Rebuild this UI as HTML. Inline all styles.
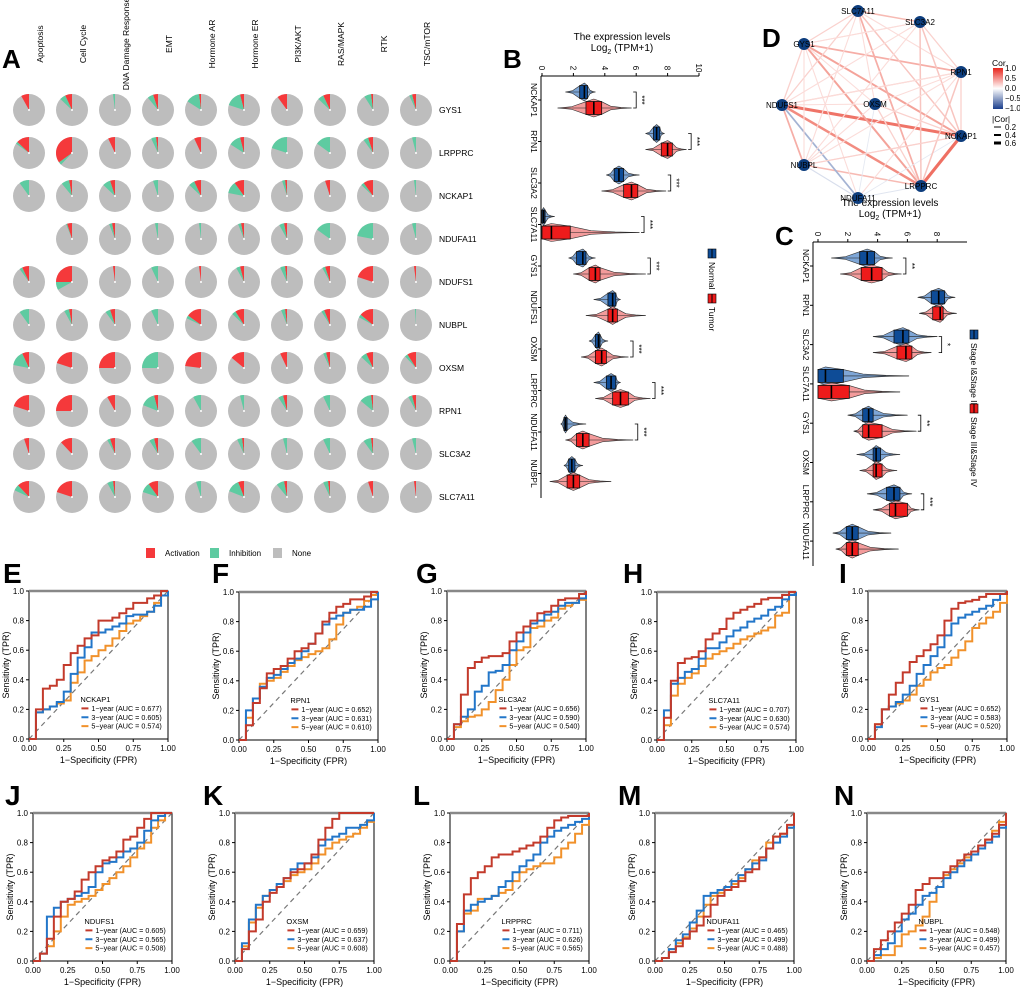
<!DOCTYPE html>
<html><head><meta charset="utf-8"><style>
html,body{margin:0;padding:0;background:#fff}
svg{display:block;font-family:"Liberation Sans",Arial,sans-serif}
</style></head><body>
<svg id="fig" width="1020" height="987" viewBox="0 0 1020 987" xmlns="http://www.w3.org/2000/svg"></svg>
<script>
// ---------- Panel A data ----------
const pathways=["Apoptosis","Cell Cycle","DNA Damage Response","EMT","Hormone AR","Hormone ER","PI3K/AKT","RAS/MAPK","RTK","TSC/mTOR"];
const pieGenes=["GYS1","LRPPRC","NCKAP1","NDUFA11","NDUFS1","NUBPL","OXSM","RPN1","SLC3A2","SLC7A11"];
const activation=[
[.08,.07,0,.05,.02,.04,.10,.07,.02,.04],
[.13,.35,.07,.02,.07,.04,0,0,.05,0],
[0,.03,.05,0,.07,.10,.02,.05,.10,0],
[null,.05,.03,0,0,.03,.03,0,0,0],
[.07,.25,.02,0,.02,.04,.02,.05,.20,.02],
[0,.03,.05,0,.15,.09,.02,.06,.14,0],
[.07,.20,.25,0,.23,.14,.07,.04,.07,.09],
[.20,.25,.08,.04,0,0,.04,0,.02,.04],
[.05,.12,.05,.04,0,.02,0,0,.02,0],
[.12,.20,.02,.10,0,.06,.03,.02,.05,.02]];
const inhibition=[
[0,.06,.02,.06,.14,.16,0,.06,.07,.03],
[.02,.03,0,.05,0,.12,.20,.15,.05,.04],
[.10,.08,.08,.05,.06,.12,.03,0,.03,.02],
[null,.01,.03,.03,.02,.03,.05,.15,.22,.04],
[.03,.08,0,.07,0,.04,.05,.03,0,0],
[.10,.05,.05,.07,.03,.04,.04,.03,.03,.01],
[.15,0,0,.25,0,0,0,.03,.06,.03],
[0,0,0,.15,.08,.04,.05,.07,.12,.04],
[0,0,.03,.05,.10,.05,.04,.07,.08,.04],
[.06,0,.06,.10,.05,.13,.08,.05,0,0]];

// ---------- Panel B data ----------
const bGenes=["NCKAP1","RPN1","SLC3A2","SLC7A11","GYS1","NDUFS1","OXSM","LRPPRC","NDUFA11","NUBPL"];
const bNormalStats=[[2.7,2.4,2.9,1.5,3.4],[7.3,7.1,7.5,6.6,7.8],[4.9,4.6,5.2,4.1,6.2],[0.1,0,0.2,0,0.8],[2.6,2.2,2.8,1.7,3.4],[4.5,4.2,4.7,3.3,5.0],[3.6,3.4,3.7,3.0,4.2],[4.4,4.1,4.7,3.3,5.0],[1.5,1.4,1.6,1.2,2.8],[1.9,1.7,2.1,1.4,2.6]];
const bTumorStats=[[3.3,2.8,3.8,1.0,5.7],[8.0,7.6,8.3,6.6,9.2],[5.7,5.2,6.1,3.8,7.9],[0.6,0,1.8,0,6.2],[3.4,3.0,3.7,2.0,6.6],[4.5,4.2,4.8,2.8,6.6],[3.8,3.4,4.1,2.5,5.5],[5.0,4.5,5.5,3.4,6.9],[2.6,2.2,3.0,1.5,5.8],[2.0,1.6,2.4,0.5,4.4]];
const bSig=["***","***","***","***","***","","***","***","***",""];
const bTicks=[0,2,4,6,8,10];

// ---------- Panel C data ----------
const cGenes=["NCKAP1","RPN1","SLC3A2","SLC7A11","GYS1","OXSM","LRPPRC","NDUFA11"];
const cEarlyStats=[[3.3,2.8,3.8,0.9,5.0],[8.1,7.6,8.5,6.7,9.2],[5.7,5.1,6.1,3.7,8.0],[0.5,0,1.7,0,6.1],[3.4,3.0,3.7,2.0,6.0],[3.9,3.7,4.2,2.6,5.5],[5.1,4.6,5.5,3.3,6.3],[2.3,1.9,2.7,1.0,4.9]];
const cLateStats=[[3.6,2.9,4.3,1.5,5.6],[8.2,7.7,8.4,6.8,9.3],[5.9,5.3,6.3,3.7,7.6],[0.9,0,2.1,0,5.5],[3.4,3.0,4.3,2.4,6.6],[3.9,3.7,4.3,2.8,5.3],[5.2,4.8,6.0,3.7,6.8],[2.3,1.9,2.7,1.2,5.4]];
const cSig=["**","","*","","**","","***",""];
const cTicks=[0,2,4,6,8];

// ---------- Panel D data ----------
const netNodes=["SLC7A11","SLC3A2","GYS1","RPN1","NDUFS1","OXSM","NCKAP1","NUBPL","LRPPRC","NDUFA11"];
const edgeFrom=["NDUFS1","NDUFS1","NCKAP1","GYS1","GYS1","GYS1","SLC7A11","SLC7A11","NDUFS1","NUBPL","NDUFS1","NUBPL","NDUFA11","NDUFA11","OXSM","SLC7A11","SLC7A11","SLC7A11","SLC7A11","SLC7A11","SLC7A11","SLC3A2","SLC3A2","SLC3A2","SLC3A2","SLC3A2","SLC3A2","GYS1","GYS1","GYS1","GYS1","GYS1","RPN1","RPN1","RPN1","RPN1","RPN1","RPN1","NDUFS1","NDUFS1","OXSM","OXSM","OXSM","NUBPL","NCKAP1"];
const edgeTo=["NCKAP1","LRPPRC","LRPPRC","NCKAP1","LRPPRC","RPN1","SLC3A2","LRPPRC","NUBPL","LRPPRC","NDUFA11","NDUFA11","LRPPRC","NCKAP1","NDUFA11","GYS1","NDUFS1","NUBPL","RPN1","NCKAP1","OXSM","GYS1","NDUFS1","LRPPRC","NCKAP1","NUBPL","RPN1","NDUFS1","NUBPL","OXSM","NDUFA11","SLC3A2","NCKAP1","LRPPRC","NDUFS1","NUBPL","OXSM","NDUFA11","OXSM","RPN1","LRPPRC","NCKAP1","NUBPL","NCKAP1","NUBPL"];
const edgeCor=[0.6,0.5,0.62,0.4,0.4,0.35,0.3,0.35,0.35,0.3,-0.35,-0.15,-0.12,-0.1,-0.1,0.2,0.2,0.15,0.15,0.25,0.15,0.15,0.15,0.25,0.25,0.15,0.2,0.2,0.15,0.15,0.15,0.15,0.2,0.25,0.2,0.15,0.15,0.15,0.15,0.15,0.2,0.2,0.15,0.15,0.2];

// ---------- ROC data (TPR at FPR = 0,0.05,...,1) ----------
const rocGenes=["NCKAP1","RPN1","SLC3A2","SLC7A11","GYS1","NDUFS1","OXSM","LRPPRC","NDUFA11","NUBPL"];
const rocLetters=["E","F","G","H","I","J","K","L","M","N"];
const aucValues=[["0.677","0.605","0.574"],["0.652","0.631","0.610"],["0.656","0.590","0.540"],["0.707","0.630","0.574"],["0.652","0.583","0.520"],["0.605","0.565","0.508"],["0.659","0.637","0.608"],["0.711","0.626","0.565"],["0.465","0.499","0.488"],["0.548","0.499","0.457"]];
const fprGrid=[0,.05,.1,.15,.2,.25,.3,.35,.4,.45,.5,.55,.6,.65,.7,.75,.8,.85,.9,.95,1];
const tpr1yr=[
[0,.2,.34,.36,.4,.5,.58,.63,.68,.7,.8,.8,.82,.85,.88,.92,.92,.95,.97,1,1],
[0,.1,.25,.35,.45,.48,.5,.55,.6,.62,.65,.72,.8,.86,.9,.92,.95,.95,.97,1,1],
[0,.1,.3,.48,.52,.55,.56,.56,.58,.66,.72,.76,.8,.85,.86,.9,.94,.95,.95,.98,1],
[0,.15,.4,.52,.55,.56,.6,.68,.72,.75,.82,.86,.88,.9,.92,.95,.96,.96,.98,1,1],
[0,.1,.2,.3,.38,.45,.52,.56,.6,.64,.7,.8,.88,.92,.93,.94,.96,.98,.98,.98,1],
[0,.05,.15,.3,.4,.42,.47,.55,.6,.64,.68,.7,.74,.82,.84,.9,.96,1,1,1,1],
[0,.08,.2,.28,.4,.46,.5,.56,.6,.62,.66,.72,.82,.9,.96,1,1,1,1,1,1],
[0,.25,.45,.56,.6,.64,.7,.72,.72,.74,.76,.78,.8,.84,.9,.95,.97,.98,.98,.98,1],
[0,.02,.06,.1,.15,.2,.24,.3,.38,.44,.48,.5,.54,.6,.62,.7,.76,.84,.86,.92,1],
[0,.08,.14,.2,.26,.32,.38,.48,.52,.56,.56,.6,.64,.68,.72,.74,.78,.82,.86,.92,1]];
const tpr3yr=[
[0,.18,.2,.22,.25,.32,.44,.55,.62,.72,.72,.74,.76,.78,.83,.84,.84,.86,.9,.97,1],
[0,.2,.28,.36,.42,.44,.48,.52,.55,.6,.65,.72,.78,.82,.84,.86,.88,.88,.9,.95,1],
[0,.1,.15,.2,.32,.36,.45,.46,.5,.6,.66,.72,.78,.8,.84,.86,.9,.92,.92,.95,1],
[0,.2,.38,.42,.46,.48,.55,.62,.62,.66,.7,.74,.76,.8,.82,.84,.88,.9,.95,.98,1],
[0,.08,.2,.22,.25,.3,.36,.44,.5,.56,.62,.7,.78,.82,.84,.86,.88,.9,.94,.98,1],
[0,.05,.3,.36,.4,.42,.44,.46,.5,.6,.66,.67,.7,.74,.76,.8,.88,.95,.98,1,1],
[0,.12,.28,.38,.44,.48,.52,.56,.62,.66,.66,.7,.78,.82,.84,.86,.9,.9,.92,.95,1],
[0,.2,.34,.38,.4,.42,.44,.5,.54,.6,.64,.68,.72,.8,.84,.88,.9,.92,.94,.96,1],
[0,.02,.08,.14,.18,.26,.34,.44,.46,.48,.5,.54,.58,.62,.66,.68,.76,.8,.84,.9,1],
[0,.04,.08,.12,.2,.28,.32,.38,.44,.46,.5,.56,.6,.64,.68,.72,.76,.8,.84,.9,1]];
const tpr5yr=[
[0,.18,.2,.22,.24,.26,.38,.45,.53,.56,.6,.63,.68,.73,.78,.8,.83,.86,.92,.97,1],
[0,.15,.28,.38,.4,.42,.46,.5,.54,.56,.58,.6,.62,.68,.78,.86,.88,.9,.94,.98,1],
[0,.08,.12,.15,.16,.2,.25,.33,.4,.5,.6,.62,.75,.76,.8,.82,.88,.9,.92,.94,1],
[0,.1,.3,.38,.42,.45,.5,.55,.58,.6,.62,.65,.68,.7,.72,.74,.76,.84,.86,.98,1],
[0,.1,.2,.22,.24,.26,.3,.36,.4,.45,.48,.5,.55,.6,.66,.75,.78,.82,.86,.92,1],
[0,.05,.1,.2,.3,.38,.4,.42,.44,.48,.52,.56,.6,.64,.7,.76,.8,.9,.95,1,1],
[0,.1,.26,.36,.44,.48,.5,.54,.58,.6,.62,.66,.72,.76,.8,.82,.84,.86,.9,.94,1],
[0,.2,.32,.34,.42,.42,.44,.46,.48,.54,.6,.62,.64,.66,.66,.7,.76,.8,.86,.92,1],
[0,.02,.08,.12,.16,.22,.3,.38,.44,.46,.48,.52,.56,.62,.68,.7,.8,.84,.86,.9,1],
[0,.02,.04,.04,.1,.18,.2,.24,.3,.4,.5,.58,.62,.66,.7,.74,.78,.82,.88,.94,1]];
const rocTicks=[0,0.25,0.5,0.75,1];
const rocYTicks=[0,0.2,0.4,0.6,0.8,1];

const NS="http://www.w3.org/2000/svg";
const svg=document.getElementById('fig');
function el(tag,attrs,parent,text){const e=document.createElementNS(NS,tag);for(const k in attrs)e.setAttribute(k,attrs[k]);if(text!==undefined)e.textContent=text;(parent||svg).appendChild(e);return e;}
function letter(t,x,y,size){const e=el('text',{x:x,y:y,'font-size':size,'font-weight':'bold'},svg,t);

}

// ===== Panel A =====
letter('A',2,68,26);
const gA=el('g',{});


const colX=c=>29+c*43, rowY=r=>110+r*43, R=16;
pathways.forEach((p,c)=>{const t=el('text',{transform:`translate(${colX(c)+14},44) rotate(-90)`,'text-anchor':'middle','font-size':8.5},gA,p);

});
function wedge(cx,cy,a0,a1){
  const p=f=>[cx-R*Math.sin(2*Math.PI*f),cy-R*Math.cos(2*Math.PI*f)];
  const [x0,y0]=p(a0),[x1,y1]=p(a1);const large=(a1-a0)>0.5?1:0;
  return `M${cx},${cy}L${x0},${y0}A${R},${R} 0 ${large} 0 ${x1},${y1}Z`;}
pieGenes.forEach((g,r)=>{
  const t=el('text',{x:439,y:rowY(r)+3,'font-size':8.5},gA,g);
  
  
  pathways.forEach((p,c)=>{
    const a=activation[r][c],h=inhibition[r][c];if(a===null)return;
    const cx=colX(c),cy=rowY(r);
    const pg=el('g',{},gA);
    
    
    el('circle',{cx:cx,cy:cy,r:R,fill:'#bdbdbd'},pg);
    if(a>0)el('path',{d:wedge(cx,cy,0,a),fill:'#f5393b'},pg);
    if(h>0)el('path',{d:wedge(cx,cy,a,a+h),fill:'#5ecba1'},pg);
    el('circle',{cx:cx,cy:cy,r:1,fill:'#fff'},pg);
  });});
[['Activation','#f5393b',146],['Inhibition','#5ecba1',210],['None','#bdbdbd',273]].forEach(([n,c,x])=>{
  const g=el('g',{});
  
  el('rect',{x:x,y:548,width:9,height:10,fill:c},g);el('text',{x:x+19,y:556,'font-size':8},g,n);});

// ===== Violin helper =====
function violinPanel(o){
  const g=el('g',{});
  
  
  const sx=v=>o.x0+v*o.k;
  el('line',{x1:o.axL,y1:o.axY,x2:o.axR,y2:o.axY,stroke:'#000','stroke-width':1},g);
  el('line',{x1:o.axL,y1:o.axY,x2:o.axL,y2:o.axB,stroke:'#000','stroke-width':1},g);
  o.ticks.forEach(t=>{el('line',{x1:sx(t),y1:o.axY,x2:sx(t),y2:o.axY-3,stroke:'#000'},g);
    el('text',{transform:`translate(${sx(t)-3},${o.axY-8}) rotate(90)`,'text-anchor':'middle','font-size':8},g,String(t));});
  el('text',{x:o.tcx,y:o.axY-36,'text-anchor':'middle','font-size':10},g,'The expression levels');
  const lt=el('text',{x:o.tcx,y:o.axY-25,'text-anchor':'middle','font-size':10},g,'Log');
  el('tspan',{'font-size':7,dy:3},lt,'2');el('tspan',{dy:-3},lt,' (TPM+1)');
  o.genes.forEach((gn,i)=>{
    const cy=o.y0+i*o.dy;
    el('line',{x1:o.axL-3,y1:cy,x2:o.axL,y2:cy,stroke:'#000'},g);
    el('text',{transform:`translate(${o.axL-10},${cy}) rotate(90)`,'text-anchor':'middle','font-size':8.5},g,gn);
    [[o.s1[i],-8,'#7ea6d6','#0e4c97'],[o.s2[i],8,'#f39b9b','#ee1b1b']].forEach(([s,off,vf,bf])=>{
      const [md,q1,q3,lo,hi]=s;const y=cy+off;const w=9;
      const xl=sx(lo),xh=sx(hi),xm=sx(md),xa=sx(q1),xb=sx(q3);
      const st=[[xl,0],[(xl+xa)/2,0.15],[xa,0.7],[xm,1],[xb,0.7],[xb+(xh-xb)*0.3,0.2],[xb+(xh-xb)*0.65,0.06],[xh,0]];
      let d='M'+st.map(([x,f])=>`${x},${y-f*w}`).join('L')+'L'+st.slice().reverse().map(([x,f])=>`${x},${y+f*w}`).join('L')+'Z';
      el('path',{d:d,fill:vf,stroke:'#333','stroke-width':0.6,'stroke-linejoin':'round'},g);
      el('line',{x1:xl,y1:y,x2:xh,y2:y,stroke:'#222','stroke-width':0.6},g);
      el('rect',{x:xa,y:y-6.5,width:Math.max(xb-xa,1),height:13,fill:bf,stroke:'#111','stroke-width':0.8},g);
      el('line',{x1:xm,y1:y-6.5,x2:xm,y2:y+6.5,stroke:'#000','stroke-width':1.6},g);
    });
    if(o.sig[i]){const bx=sx(Math.max(o.s1[i][4],o.s2[i][4])+0.3);
      el('path',{d:`M${bx-3},${cy-8}H${bx}V${cy+8}H${bx-3}`,fill:'none',stroke:'#000','stroke-width':0.8},g);
      el('text',{transform:`translate(${bx+3},${cy}) rotate(90)`,'text-anchor':'middle','font-size':8},g,o.sig[i]);}
  });
  o.legend.forEach(([lab,ly,bf])=>{const lg=el('g',{},g);
    
    
    el('rect',{x:o.legX,y:ly,width:8,height:9,fill:bf,stroke:'#000','stroke-width':0.6},lg);
    el('line',{x1:o.legX+4,y1:ly,x2:o.legX+4,y2:ly+9,stroke:'#000'},lg);
    el('text',{transform:`translate(${o.legX+1},${ly+13}) rotate(90)`,'font-size':8.5},lg,lab);});
}
letter('B',503,68,26);
violinPanel({name:'expression-violin-normal-tumor',x0:542,k:15.7,axL:541,axR:699,axY:76,axB:498,tcx:622,ticks:bTicks,genes:bGenes,y0:100,dy:41.5,s1:bNormalStats,s2:bTumorStats,sig:bSig,legX:708,legend:[['Normal',249,'#0e4c97'],['Tumor',294,'#ee1b1b']]});
letter('C',775,245,26);
violinPanel({name:'expression-violin-stage',x0:818,k:14.9,axL:813,axR:967,axY:242,axB:566,tcx:890,ticks:cTicks,genes:cGenes,y0:266,dy:39.3,s1:cEarlyStats,s2:cLateStats,sig:cSig,legX:970,legend:[['Stage I&Stage II',330,'#0e4c97'],['Stage III&Stage IV',404,'#ee1b1b']]});

// ===== Panel D network =====
letter('D',762,47,26);
const gD=el('g',{});


const nodePos={SLC7A11:[858,11],SLC3A2:[920,22],GYS1:[804,44],RPN1:[961,72],NDUFS1:[782,105],OXSM:[875,104],NCKAP1:[961,136],NUBPL:[804,165],LRPPRC:[921,186],NDUFA11:[858,198]};
function corColor(c){const t=Math.min(Math.abs(c),1);
  const tt=Math.min(1,t*1.4);
  if(c>=0)return `rgb(${Math.round(255-(255-236)*tt)},${Math.round(255-(255-90)*tt)},${Math.round(255-(255-75)*tt)})`;
  return `rgb(${Math.round(255-(255-70)*tt)},${Math.round(255-(255-100)*tt)},${Math.round(255-(255-165)*tt)})`;}
edgeFrom.forEach((a,i)=>{const [x1,y1]=nodePos[a],[x2,y2]=nodePos[edgeTo[i]];
  const c=Math.abs(edgeCor[i]);
  const l=el('line',{x1,y1,x2,y2,stroke:corColor(edgeCor[i]),'stroke-width':c<0.28?0.5+c*4:c*5},gD);
  
  });
netNodes.forEach(n=>{const [x,y]=nodePos[n];const ng=el('g',{},gD);
  
  
  el('circle',{cx:x,cy:y,r:6,fill:'#0d3d7d'},ng);
  el('text',{x:x,y:y+3,'text-anchor':'middle','font-size':8},ng,n);});
const defs=el('defs',{});const lg=el('linearGradient',{id:'corg',x1:0,y1:0,x2:0,y2:1},defs);
[['0','#e8241b'],['0.5','#ffffff'],['1','#1a3e8c']].forEach(([o,c])=>el('stop',{offset:o,'stop-color':c},lg));
const gL=el('g',{});
el('text',{x:992,y:66,'font-size':8.5},gL,'Cor');
el('rect',{x:993,y:68,width:10,height:41,fill:'url(#corg)'},gL);
[['1.0',71],['0.5',81],['0.0',91],['\u22120.5',101],['\u22121.0',111]].forEach(([t,y])=>el('text',{x:1005,y:y,'font-size':8},gL,t));
el('text',{x:992,y:122,'font-size':8.5},gL,'|Cor|');
[['0.2',130,1],['0.4',138,2],['0.6',146,3]].forEach(([t,y,w])=>{el('line',{x1:994,y1:y-3,x2:1001,y2:y-3,stroke:'#000','stroke-width':w},gL);el('text',{x:1005,y:y,'font-size':8},gL,t);});

// ===== ROC panels =====
const boxes=[[29,591],[239,592],[447,591],[657,592],[868,591],[33,813],[235,813],[450,813],[655,813],[867,813]];
const letterPos=[[3,583],[212,583],[416,583],[623,583],[839,583],[5,805],[203,805],[413,805],[618,805],[834,805]];
const curveColors=['#c33a2b','#2276c9','#f1912a'];
rocGenes.forEach((gn,i)=>{
  letter(rocLetters[i],letterPos[i][0],letterPos[i][1],28);
  const [bx,by]=boxes[i],W=139,H=148;
  const g=el('g',{});
  
  
  const sx=v=>bx+v*W, sy=v=>by+H-v*H;
  el('rect',{x:bx,y:by,width:W,height:H,fill:'#fff',stroke:'#000','stroke-width':1},g);
  el('line',{x1:bx,y1:by,x2:bx+W,y2:by,stroke:'#888','stroke-width':2.5},g);
  el('line',{x1:sx(0),y1:sy(0),x2:sx(1),y2:sy(1),stroke:'#777','stroke-width':1.2,'stroke-dasharray':'5,4'},g);
  rocTicks.forEach(t=>{el('line',{x1:sx(t),y1:by+H,x2:sx(t),y2:by+H+3,stroke:'#000'},g);
    el('text',{x:sx(t),y:by+H+12,'text-anchor':'middle','font-size':8},g,t.toFixed(2));});
  rocYTicks.forEach(t=>{el('line',{x1:bx-3,y1:sy(t),x2:bx,y2:sy(t),stroke:'#000'},g);
    el('text',{x:bx-5,y:sy(t)+3,'text-anchor':'end','font-size':8},g,t.toFixed(1));});
  el('text',{x:bx+W/2,y:by+H+24,'text-anchor':'middle','font-size':9},g,'1\u2212Specificity (FPR)');
  el('text',{transform:`translate(${bx-20},${by+H/2}) rotate(-90)`,'text-anchor':'middle','font-size':9},g,'Sensitivity (TPR)');
  [tpr5yr,tpr3yr,tpr1yr].forEach((arr,k)=>{const d=arr[i];let p=`M${sx(fprGrid[0])},${sy(0)}`;
    d.forEach((v,j)=>{p+=`L${sx(fprGrid[j])},${sy(v)}`;if(j<d.length-1)p+=`L${sx(fprGrid[j+1])},${sy(v)}`;});
    const c=el('path',{d:p,fill:'none',stroke:curveColors[2-k],'stroke-width':2},g);
    
    });
  const lx=bx+0.37*W;
  el('text',{x:lx,y:sy(0.25),'font-size':7.5},g,gn);
  ['1','3','5'].forEach((yr,k)=>{const yy=sy(0.19-k*0.06);
    el('line',{x1:lx+1,y1:yy-2.5,x2:lx+8,y2:yy-2.5,stroke:curveColors[k],'stroke-width':2},g);
    el('text',{x:lx+11,y:yy,'font-size':7.2},g,`${yr}\u2212year (AUC = ${aucValues[i][k]})`);});
});
</script>
</body></html>
